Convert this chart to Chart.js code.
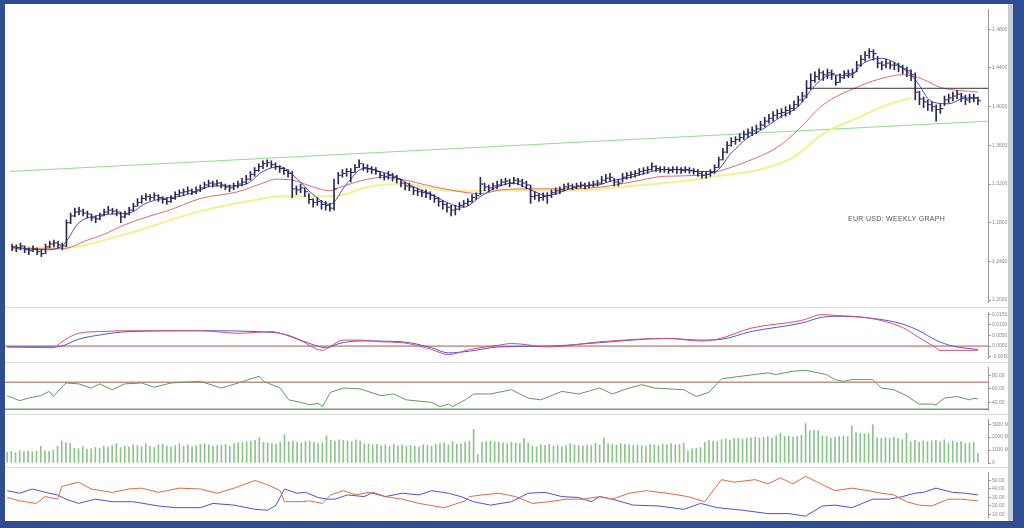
<!DOCTYPE html>
<html>
<head>
<meta charset="utf-8">
<script src="https://cdn.jsdelivr.net/npm/chart.js@4.4.1/dist/chart.umd.min.js"></script>
<style>
  html, body { margin: 0; padding: 0; }
  body { width: 1024px; height: 528px; background: #2e4d92; position: relative; overflow: hidden; }
  .paper { position: absolute; left: 5px; top: 4px; width: 1003px; height: 517px; background: #fff; }
  .strip { position: absolute; left: 1008px; top: 4px; width: 5px; height: 517px; background: #c6cbd6; }
  .box { position: absolute; left: 5px; width: 1003px; }
  .sep { position: absolute; left: 5px; width: 1003px; height: 1px; background: #dadada; }
  .note { position: absolute; left: 848px; top: 215px; font: 7px 'Liberation Sans', Arial, sans-serif; color: #555; letter-spacing: 0.3px; white-space: nowrap; }
</style>
</head>
<body>
<div class="paper"></div>
<div class="strip"></div>
<div class="box" style="top:4px;height:303px"><canvas id="priceChart"></canvas></div>
<div class="box" style="top:308px;height:54px"><canvas id="macdChart"></canvas></div>
<div class="box" style="top:363px;height:51px"><canvas id="rsiChart"></canvas></div>
<div class="box" style="top:415px;height:52px"><canvas id="volChart"></canvas></div>
<div class="box" style="top:468px;height:53px"><canvas id="dmiChart"></canvas></div>
<div class="sep" style="top:307px"></div>
<div class="sep" style="top:362px"></div>
<div class="sep" style="top:414px"></div>
<div class="sep" style="top:467px"></div>
<div class="note">EUR USD: WEEKLY GRAPH</div>

<script>
// weekly bars, index 0..231
const closes = [
  1.255,1.254,1.256,1.252,1.251,1.253,1.250,1.248,1.255,1.258,
  1.259,1.257,1.256,1.280,1.287,1.291,1.292,1.290,1.289,1.285,
  1.284,1.287,1.291,1.293,1.292,1.291,1.286,1.289,1.293,1.297,
  1.301,1.305,1.307,1.306,1.308,1.306,1.304,1.302,1.305,1.309,
  1.311,1.312,1.313,1.312,1.314,1.316,1.319,1.321,1.320,1.321,
  1.319,1.317,1.316,1.318,1.320,1.322,1.325,1.330,1.334,1.338,
  1.341,1.342,1.340,1.338,1.336,1.334,1.331,1.315,1.314,1.316,
  1.312,1.304,1.301,1.302,1.299,1.298,1.295,1.315,1.329,1.331,
  1.333,1.332,1.337,1.341,1.337,1.336,1.335,1.333,1.329,1.328,
  1.329,1.327,1.325,1.321,1.318,1.317,1.313,1.312,1.311,1.310,
  1.308,1.305,1.302,1.299,1.296,1.293,1.294,1.298,1.300,1.302,
  1.306,1.308,1.320,1.317,1.316,1.318,1.319,1.322,1.323,1.321,
  1.324,1.323,1.321,1.319,1.307,1.308,1.306,1.307,1.308,1.311,
  1.313,1.314,1.317,1.318,1.317,1.318,1.319,1.318,1.319,1.320,
  1.321,1.324,1.326,1.327,1.322,1.321,1.327,1.329,1.330,1.331,
  1.333,1.334,1.335,1.338,1.336,1.335,1.335,1.334,1.335,1.335,
  1.334,1.335,1.334,1.333,1.331,1.329,1.330,1.332,1.337,1.345,
  1.353,1.360,1.364,1.366,1.368,1.371,1.373,1.375,1.377,1.381,
  1.385,1.388,1.391,1.393,1.394,1.396,1.398,1.402,1.407,1.411,
  1.419,1.427,1.431,1.435,1.433,1.435,1.434,1.425,1.430,1.434,
  1.434,1.435,1.443,1.449,1.453,1.457,1.455,1.445,1.443,1.445,
  1.443,1.443,1.441,1.439,1.437,1.433,1.415,1.408,1.405,1.402,
  1.400,1.397,1.398,1.407,1.409,1.411,1.413,1.410,1.407,1.409,
  1.409,1.406
];
const highs = [
  1.258,1.257,1.259,1.256,1.254,1.256,1.254,1.252,1.258,1.261,
  1.262,1.261,1.259,1.283,1.290,1.295,1.296,1.294,1.292,1.289,
  1.287,1.290,1.294,1.297,1.295,1.294,1.291,1.292,1.296,1.300,
  1.305,1.308,1.310,1.309,1.311,1.309,1.307,1.306,1.308,1.312,
  1.314,1.315,1.317,1.315,1.317,1.319,1.322,1.324,1.323,1.324,
  1.322,1.320,1.319,1.321,1.323,1.326,1.329,1.333,1.337,1.341,
  1.344,1.345,1.344,1.342,1.339,1.337,1.335,1.333,1.318,1.320,
  1.316,1.310,1.305,1.306,1.303,1.302,1.300,1.325,1.332,1.335,
  1.336,1.336,1.340,1.345,1.341,1.340,1.338,1.337,1.333,1.331,
  1.333,1.331,1.329,1.325,1.322,1.321,1.317,1.316,1.314,1.314,
  1.312,1.309,1.306,1.303,1.300,1.298,1.298,1.301,1.303,1.305,
  1.309,1.311,1.327,1.321,1.319,1.321,1.323,1.325,1.326,1.325,
  1.327,1.326,1.325,1.323,1.319,1.312,1.310,1.311,1.311,1.314,
  1.316,1.317,1.320,1.321,1.320,1.321,1.322,1.321,1.322,1.323,
  1.324,1.328,1.330,1.331,1.326,1.325,1.331,1.332,1.333,1.334,
  1.336,1.337,1.338,1.342,1.339,1.338,1.338,1.337,1.338,1.338,
  1.337,1.338,1.337,1.336,1.335,1.333,1.333,1.335,1.340,1.348,
  1.357,1.364,1.368,1.369,1.372,1.375,1.377,1.379,1.381,1.385,
  1.389,1.392,1.395,1.397,1.398,1.400,1.402,1.406,1.411,1.415,
  1.427,1.434,1.436,1.439,1.437,1.439,1.438,1.432,1.434,1.437,
  1.438,1.439,1.447,1.453,1.457,1.460,1.459,1.452,1.447,1.449,
  1.447,1.446,1.445,1.443,1.441,1.438,1.435,1.416,1.410,1.407,
  1.405,1.402,1.403,1.411,1.413,1.415,1.417,1.414,1.412,1.413,
  1.413,1.410
];
const lows = [
  1.251,1.250,1.252,1.249,1.247,1.250,1.247,1.245,1.248,1.254,
  1.255,1.254,1.252,1.255,1.279,1.286,1.288,1.287,1.285,1.282,
  1.280,1.283,1.287,1.289,1.289,1.287,1.280,1.285,1.288,1.292,
  1.297,1.300,1.303,1.303,1.304,1.302,1.300,1.299,1.301,1.304,
  1.307,1.308,1.310,1.309,1.310,1.312,1.315,1.317,1.317,1.318,
  1.316,1.314,1.312,1.314,1.316,1.318,1.320,1.324,1.328,1.333,
  1.336,1.338,1.337,1.335,1.332,1.330,1.327,1.306,1.309,1.311,
  1.307,1.300,1.296,1.298,1.294,1.293,1.292,1.293,1.320,1.327,
  1.328,1.322,1.332,1.337,1.334,1.332,1.331,1.330,1.326,1.324,
  1.325,1.323,1.321,1.317,1.314,1.313,1.309,1.308,1.307,1.306,
  1.304,1.301,1.297,1.294,1.291,1.287,1.288,1.293,1.296,1.298,
  1.301,1.304,1.309,1.313,1.312,1.314,1.315,1.318,1.319,1.317,
  1.320,1.319,1.317,1.315,1.300,1.304,1.302,1.303,1.300,1.306,
  1.309,1.310,1.313,1.315,1.314,1.315,1.316,1.315,1.316,1.317,
  1.318,1.320,1.322,1.323,1.318,1.318,1.322,1.325,1.326,1.327,
  1.329,1.330,1.331,1.334,1.333,1.332,1.332,1.331,1.332,1.331,
  1.331,1.332,1.331,1.330,1.328,1.326,1.326,1.328,1.331,1.337,
  1.345,1.352,1.359,1.361,1.364,1.366,1.368,1.370,1.372,1.376,
  1.379,1.383,1.385,1.388,1.389,1.390,1.392,1.396,1.400,1.405,
  1.409,1.418,1.425,1.428,1.427,1.429,1.428,1.422,1.425,1.429,
  1.430,1.430,1.436,1.442,1.447,1.450,1.448,1.440,1.438,1.440,
  1.439,1.438,1.436,1.434,1.431,1.427,1.407,1.402,1.399,1.396,
  1.395,1.385,1.393,1.401,1.404,1.406,1.408,1.405,1.402,1.404,
  1.405,1.402
];
const volumes = [
  850,900,800,950,880,920,860,900,1300,950,
  900,1000,1300,1700,1550,1500,1150,1100,1250,1050,
  1100,1200,1150,1300,1250,1350,1500,1200,1300,1250,
  1400,1350,1250,1500,1300,1200,1400,1450,1300,1250,
  1350,1500,1300,1400,1250,1350,1450,1500,1400,1300,
  1350,1400,1450,1300,1500,1550,1600,1650,1700,1750,
  1950,1600,1550,1500,1450,1600,2200,1650,1700,1600,
  1550,1650,1700,1600,1500,1550,2100,1750,1700,1800,
  1750,1700,1650,1800,1700,1500,1450,1400,1450,1350,
  1400,1300,1450,1350,1400,1300,1350,1300,1250,1400,
  1350,1300,1450,1500,1550,1400,1650,1450,1500,1600,
  1700,2600,650,1600,1650,1700,1650,1600,1550,1500,
  1600,1550,1500,1900,1550,1300,1250,1400,1350,1450,
  1300,1400,1250,1350,1500,1400,1350,1300,1400,1350,
  1550,1400,1950,1500,1450,1400,1500,1450,1400,1350,
  1400,1350,1300,1450,1400,1350,1450,1400,1500,1400,
  1450,1550,950,1100,1150,1200,1600,1750,1700,1650,
  1800,1850,1750,1900,1900,1850,1900,1950,2000,1950,
  2000,2050,1950,2100,2300,2050,2100,2000,2050,2150,
  3050,2500,2550,2500,2100,2050,1900,2000,2050,2100,
  2050,2850,2350,2300,2250,2250,2950,1950,1900,1950,
  1900,2000,1900,1800,2300,1650,1750,1600,1700,1650,
  1700,1750,1650,1800,1550,1700,1600,1650,1500,1550,
  1600,750
];

// moving averages (bar index, price)
const fastIdx = [0,4,8,12,16,20,24,28,32,36,40,44,48,52,56,60,64,68,72,76,80,84,88,92,96,100,104,108,112,116,120,124,128,132,136,140,144,148,152,156,160,164,168,172,176,180,184,188,192,196,200,204,208,212,216,220,224,228,231];
const fastMa = [1.255,1.253,1.252,1.256,1.280,1.287,1.289,1.290,1.300,1.305,1.307,1.312,1.318,1.318,1.320,1.333,1.338,1.326,1.309,1.299,1.320,1.336,1.333,1.327,1.317,1.310,1.301,1.296,1.307,1.317,1.321,1.314,1.308,1.313,1.318,1.319,1.324,1.327,1.332,1.335,1.335,1.333,1.333,1.352,1.368,1.378,1.390,1.400,1.422,1.433,1.432,1.446,1.450,1.443,1.428,1.405,1.403,1.409,1.409];
const slowIdx = [0,12,18,22,27,33,37,45,54,60,63,67,72,76,78,85,89,93,101,109,112,117,125,133,141,148,156,165,168,175,183,188,194,202,207,213,215,218,222,231];
const slowMa = [1.253,1.253,1.262,1.268,1.278,1.287,1.292,1.305,1.312,1.321,1.325,1.324,1.317,1.313,1.316,1.325,1.327,1.325,1.317,1.311,1.310,1.314,1.315,1.315,1.317,1.322,1.328,1.329,1.332,1.342,1.358,1.376,1.402,1.420,1.428,1.433,1.432,1.428,1.420,1.415];
const longIdx = [0,12,27,45,60,63,78,85,93,105,117,133,148,164,168,179,187,194,202,210,215];
const longMa = [1.255,1.254,1.268,1.292,1.305,1.307,1.308,1.317,1.320,1.313,1.313,1.313,1.318,1.325,1.328,1.335,1.348,1.372,1.388,1.403,1.409];

const trendIdx = [-0.5, 233.4];
const trendVal = [1.333, 1.385];
const resIdx = [190, 233.4];
const resVal = [1.419, 1.419];

// MACD
const macdIdx = [0,11,13,17,22,29,46,55,63,65,70,75,77,80,84,89,94,101,105,110,117,120,129,141,157,165,169,177,189,194,197,205,213,217,221,222,231];
const macdVal = [-0.0004,-0.0008,0.002,0.006,0.0068,0.0072,0.0072,0.006,0.0068,0.006,0.0024,-0.002,0,0.0028,0.0028,0.002,0.0016,-0.0016,-0.004,-0.0016,0.0004,0.0012,-0.0004,0.002,0.0036,0.0024,0.0032,0.0084,0.012,0.0148,0.0144,0.0132,0.0088,0.004,-0.0008,-0.002,-0.002];
const signalIdx = [0,11,13,17,22,29,46,63,66,72,76,79,84,94,101,105,110,117,129,141,157,165,170,177,189,194,197,205,213,217,221,225,231];
const signalVal = [-0.0004,-0.0004,0,0.0032,0.0052,0.0068,0.0072,0.0064,0.0056,0.0012,-0.0008,0.0012,0.0024,0.002,-0.0008,-0.0032,-0.0024,-0.0004,0,0.0016,0.0036,0.0028,0.0032,0.0068,0.0108,0.0136,0.014,0.0132,0.0104,0.0072,0.0028,0,-0.0016];

// RSI
const rsiIdx = [0,3,5,8,10,11,13,14,17,20,22,25,28,32,35,39,46,51,55,60,61,65,67,70,72,74,75,77,80,84,89,92,95,101,103,105,106,109,111,115,120,124,127,132,136,141,144,148,151,154,161,164,167,170,173,181,183,187,190,193,195,197,199,201,206,208,211,214,217,220,221,223,226,229,230,231];
const rsiVal = [50,42.5,46.3,50,56.3,48.8,62.5,68.8,67.5,61.3,67.5,58.8,67.5,68.8,62.5,68.8,71.3,61.3,68.8,78.8,71.3,61.3,43.8,40,36.3,38.8,33.8,55,61.3,60,50,52.5,43.8,40,33.8,37.5,33.8,43.8,52.5,52.5,58.8,46.3,43.8,56.3,52.5,61.3,52.5,61.3,66.3,61.3,58.8,48.8,55,75,77.5,83.8,81.3,86.3,87.5,83.8,81.3,73.8,71.3,73.8,73.8,61.3,58.8,50,37.5,37.5,36.3,46.3,48.8,43.8,46.3,45];
const rsiLevels = [70, 30];

// DMI
const plusIdx = [0,3,7,9,12,13,17,20,25,29,32,36,41,46,50,54,59,62,65,66,70,72,75,77,80,83,86,90,94,98,104,109,110,113,117,121,125,129,133,137,141,144,148,152,157,162,166,170,173,178,181,184,187,190,194,197,201,205,208,211,214,217,220,224,227,231];
const plusVal = [30,26,23,31,28,43,48,40,36,40,41,36,41,40,35,41,50,45,38,25,25,26,23,33,38,33,36,31,28,23,18,26,31,33,35,31,23,25,28,28,31,28,35,38,35,31,25,51,48,51,46,53,46,55,45,38,41,38,35,33,25,21,20,28,28,26];
const minusIdx = [0,3,6,10,12,14,17,21,25,30,36,40,46,49,54,59,62,64,66,69,71,74,76,78,81,85,87,90,94,98,101,105,108,111,115,120,124,128,132,136,139,141,144,149,155,161,165,169,175,181,186,190,194,197,201,206,210,213,216,218,221,225,228,231];
const minusVal = [38,35,40,35,33,28,23,28,25,25,20,18,18,23,21,16,15,21,40,35,36,30,28,28,33,31,36,31,35,33,38,35,31,25,21,25,35,36,31,30,25,31,28,21,20,16,23,18,15,11,11,8,20,21,18,28,28,31,35,36,41,36,35,33];

// tick labels
const priceTicks = [1.20,1.24,1.28,1.32,1.36,1.40,1.44,1.48];
const macdTicks = [-0.005,0,0.005,0.010,0.015];
const rsiTicks = [40,60,80];
const volTicks = [0,1000,2000,3000];
const dmiTicks = [10,20,30,40,50];

const pts = (xs, ys) => xs.map((x, k) => ({ x, y: ys[k] }));

// same x range on every panel, no category padding
const xScale = { type: 'linear', min: -0.5, max: 233.4, offset: false, display: false };

function rightAxis(min, max, ticks, fmt) {
  return {
    position: 'right',
    min, max,
    afterFit: s => { s.width = 20; },
    afterBuildTicks: s => { s.ticks = ticks.map(v => ({ value: v })); },
    border: { display: true, color: '#9a9a9a' },
    grid: { display: true, drawOnChartArea: false, tickLength: 3, color: '#9a9a9a' },
    ticks: {
      font: { size: 5, family: 'Liberation Sans' },
      color: '#888',
      padding: 1,
      callback: fmt
    }
  };
}

function baseOptions(y) {
  return {
    responsive: true,
    maintainAspectRatio: false,
    animation: false,
    events: [],
    layout: { padding: 0 },
    plugins: { legend: { display: false }, tooltip: { enabled: false } },
    scales: { x: xScale, y }
  };
}

function line(data, color, width, order, extra = {}) {
  return Object.assign({
    type: 'line', data, borderColor: color, borderWidth: width,
    pointRadius: 0, fill: false, order
  }, extra);
}

/* ===== price ===== */
new Chart(document.getElementById('priceChart'), {
  type: 'bar',
  data: {
    datasets: [
      {
        type: 'bar',
        data: closes.map((c, i) => ({ x: i, y: [lows[i], highs[i]] })),
        backgroundColor: '#2a2a52',
        barThickness: 1,
        grouped: false,
        order: 0
      },
      line(closes.map((c, i) => ({ x: i + 0.4, y: c })), '#2a2a52', 1, 0,
        { showLine: false, pointStyle: 'line', pointRadius: 1.6 }),
      line(pts(fastIdx, fastMa), '#4848c8', 1, 1, { cubicInterpolationMode: 'monotone' }),
      line(pts(resIdx, resVal), '#333333', 1, 1),
      line(pts(slowIdx, slowMa), '#df6a6a', 1, 2, { cubicInterpolationMode: 'monotone' }),
      line(pts(longIdx, longMa), '#f6f08c', 2, 3, { cubicInterpolationMode: 'monotone' }),
      line(pts(trendIdx, trendVal), '#8fdc8f', 1, 4)
    ]
  },
  options: baseOptions(rightAxis(1.198, 1.501, priceTicks, v => v.toFixed(4)))
});

/* ===== MACD ===== */
new Chart(document.getElementById('macdChart'), {
  type: 'line',
  data: {
    datasets: [
      line(pts(macdIdx, macdVal), '#d8506a', 1, 1, { cubicInterpolationMode: 'monotone' }),
      line(pts(signalIdx, signalVal), '#5058d0', 1, 2, { cubicInterpolationMode: 'monotone' }),
      line(pts([-0.5, 233.4], [0, 0]), '#a85848', 1, 3)
    ]
  },
  options: baseOptions(rightAxis(-0.0056, 0.016, macdTicks, v => v.toFixed(4)))
});

/* ===== RSI ===== */
new Chart(document.getElementById('rsiChart'), {
  type: 'line',
  data: {
    datasets: [
      line(pts(rsiIdx, rsiVal), '#5f9a5f', 1, 1),
      line(pts([-0.5, 233.4], [rsiLevels[0], rsiLevels[0]]), '#a85848', 1, 2),
      line(pts([-0.5, 233.4], [rsiLevels[1], rsiLevels[1]]), '#6aaa6a', 1.5, 2)
    ]
  },
  options: baseOptions(rightAxis(28.75, 92.5, rsiTicks, v => v.toFixed(2)))
});

/* ===== volume ===== */
new Chart(document.getElementById('volChart'), {
  type: 'bar',
  data: {
    datasets: [{
      data: volumes.map((v, i) => ({ x: i, y: v })),
      backgroundColor: '#8cc48c',
      barThickness: 1
    }]
  },
  options: baseOptions(rightAxis(0, 3400, volTicks, v => v ? v.toFixed(0) + ' M' : '0'))
});

/* ===== DMI ===== */
new Chart(document.getElementById('dmiChart'), {
  type: 'line',
  data: {
    datasets: [
      line(pts(plusIdx, plusVal), '#e2683e', 1, 1),
      line(pts(minusIdx, minusVal), '#4a52d4', 1, 2)
    ]
  },
  options: baseOptions(rightAxis(7, 60, dmiTicks, v => v.toFixed(2)))
});
</script>
</body>
</html>
